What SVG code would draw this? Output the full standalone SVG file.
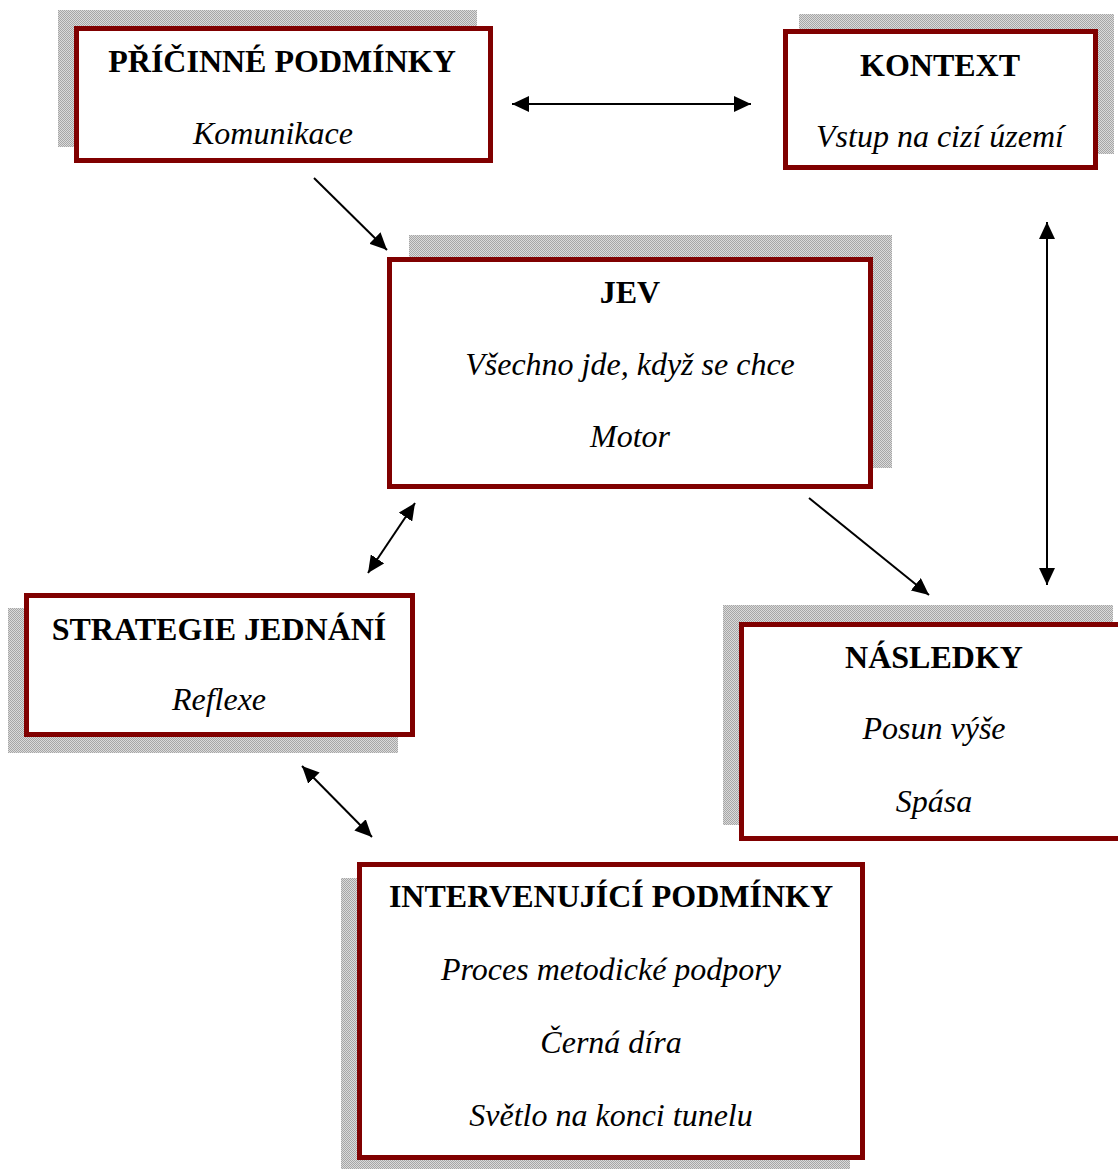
<svg xmlns="http://www.w3.org/2000/svg" width="1118" height="1169" viewBox="0 0 1118 1169">
<style>
.sh{fill:url(#dither)}
.bx{fill:#ffffff;stroke:#800000;stroke-width:5}
.t{font-family:"Liberation Serif","Times New Roman",serif;font-size:32px;font-weight:bold;text-anchor:middle;fill:#000}
.i{font-family:"Liberation Serif","Times New Roman",serif;font-size:32px;font-style:italic;text-anchor:middle;fill:#000}
.c{stroke:#000;stroke-width:2;fill:none;marker-end:url(#ah)}
.d{marker-start:url(#ah)}
</style>
<defs>
<pattern id="dither" width="2" height="2" patternUnits="userSpaceOnUse">
<rect width="2" height="2" fill="#dadada"/>
<rect width="1" height="1" fill="#a6a6a6"/>
<rect x="1" y="1" width="1" height="1" fill="#a6a6a6"/>
</pattern>
<marker id="ah" markerUnits="userSpaceOnUse" markerWidth="18" markerHeight="16" refX="17" refY="8" orient="auto-start-reverse">
<path d="M0,0 L17,8 L0,16 z" fill="#000"/>
</marker>
</defs>
<rect width="1118" height="1169" fill="#fff"/>
<g id="connectors">
<line class="c" x1="314" y1="178" x2="387" y2="250"/>
<line class="c d" x1="512" y1="104" x2="751" y2="104"/>
<line class="c d" x1="1047" y1="222" x2="1047" y2="585"/>
<line class="c d" x1="415" y1="503" x2="368" y2="573"/>
<line class="c d" x1="302" y1="766" x2="372" y2="837"/>
<line class="c" x1="809" y1="498" x2="929" y2="595"/>
</g>
<g id="pricinne">
<rect class="sh" x="58" y="10" width="419" height="137"/>
<rect class="bx" x="76.5" y="28.5" width="414" height="132"/>
<text class="t" x="282" y="72">PŘÍČINNÉ PODMÍNKY</text>
<text class="i" x="273" y="144">Komunikace</text>
</g>
<g id="kontext">
<rect class="sh" x="799" y="14" width="315" height="140"/>
<rect class="bx" x="785.5" y="31.5" width="310" height="136"/>
<text class="t" x="940" y="76">KONTEXT</text>
<text class="i" x="940" y="147">Vstup na cizí území</text>
</g>
<g id="jev">
<rect class="sh" x="409" y="235" width="483" height="233"/>
<rect class="bx" x="389.5" y="259.5" width="481" height="227"/>
<text class="t" x="630" y="303">JEV</text>
<text class="i" x="630" y="375">Všechno jde, když se chce</text>
<text class="i" x="630" y="447">Motor</text>
</g>
<g id="strategie">
<rect class="sh" x="8" y="608" width="390" height="145"/>
<rect class="bx" x="26.5" y="595.5" width="386" height="139"/>
<text class="t" x="219" y="640">STRATEGIE JEDNÁNÍ</text>
<text class="i" x="219" y="710">Reflexe</text>
</g>
<g id="nasledky">
<rect class="sh" x="723" y="605" width="390" height="220"/>
<rect class="bx" x="741.5" y="624.5" width="390" height="214"/>
<text class="t" x="934" y="668">NÁSLEDKY</text>
<text class="i" x="934" y="739">Posun výše</text>
<text class="i" x="934" y="812">Spása</text>
</g>
<g id="intervenujici">
<rect class="sh" x="341" y="878" width="509" height="291"/>
<rect class="bx" x="359.5" y="864.5" width="503" height="293"/>
<text class="t" x="611" y="907">INTERVENUJÍCÍ PODMÍNKY</text>
<text class="i" x="611" y="980">Proces metodické podpory</text>
<text class="i" x="611" y="1053">Černá díra</text>
<text class="i" x="611" y="1126">Světlo na konci tunelu</text>
</g>
</svg>
